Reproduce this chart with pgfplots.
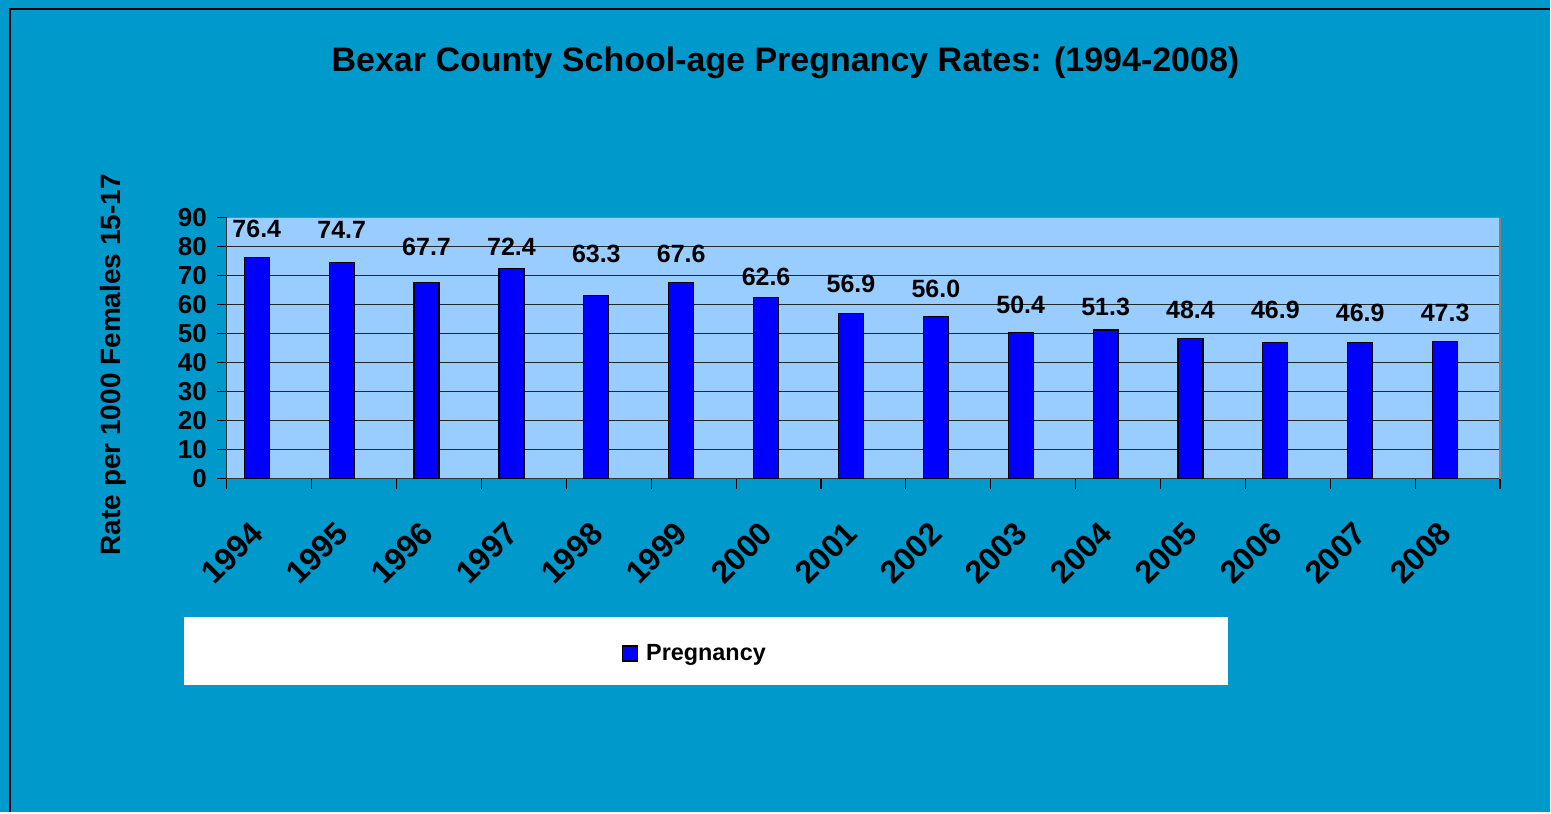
\documentclass[border=0pt]{standalone}
\usepackage{pgfplots}
\usepackage{pgfplotstable}
\pgfplotsset{compat=1.18}
\usepackage{fontspec}
\setmainfont{Liberation Sans}
\definecolor{bgc}{HTML}{0099CC}
\definecolor{plotbg}{HTML}{99CCFF}
\definecolor{barc}{HTML}{0000FF}
% x: category, y: rate, ly: height at which its label stands
\pgfplotstableread{
x y ly
0 76.4 86.2
1 74.7 85.9
2 67.7 80.0
3 72.4 80.0
4 63.3 77.6
5 67.6 77.6
6 62.6 69.7
7 56.9 67.2
8 56.0 65.5
9 50.4 60.0
10 51.3 59.3
11 48.4 58.3
12 46.9 58.3
13 46.9 57.2
14 47.3 57.2
}\data
\begin{document}
\begin{tikzpicture}
\fill[bgc] (0,0) rectangle (775.5pt,406.5pt);
\draw[black,line width=1pt] (5pt,0) -- (5pt,402pt) -- (775.5pt,402pt);
\fill[white] (92pt,64pt) rectangle (614.5pt,98pt);
\node[font=\fontsize{17}{20}\selectfont\bfseries] at (393pt,375pt) {Bexar County School-age Pregnancy Rates: (1994-2008)};
\node[rotate=90,font=\fontsize{14}{16}\selectfont\bfseries] at (56.5pt,224pt) {Rate per 1000 Females 15-17};
\begin{axis}[
  at={(113.5pt,167pt)}, anchor=south west, scale only axis,
  width=637pt, height=130.5pt,
  xmin=-0.5, xmax=14.5, ymin=0, ymax=90,
  clip=false,
  ybar, bar width=12.5pt, bar shift=-6.25pt,
  axis background/.style={fill=plotbg},
  axis x line*=bottom, axis y line*=left,
  axis line style={-,draw=black!80,line width=0.6pt},
  xtick={-0.5,0.5,...,14.5}, x tick label as interval,
  xticklabels={1994,1995,1996,1997,1998,1999,2000,2001,2002,2003,2004,2005,2006,2007,2008},
  ytick={0,10,...,90},
  tick align=outside, xtick pos=lower, ytick pos=left,
  major tick length=5pt,
  tick style={black,line width=0.6pt},
  ymajorgrids, grid style={black!85,line width=0.5pt},
  /pgf/number format/assume math mode=true,
  yticklabel style={font=\fontsize{13}{15}\selectfont\bfseries, xshift=-1.5pt},
  xticklabel style={yshift=-17pt, xshift=-3.5pt, rotate=45, anchor=east, font=\fontsize{16}{18}\selectfont\bfseries},
  legend style={at={(0.3684,-0.6705)}, anchor=center, draw=none, fill=none,
    column sep=2pt, font=\fontsize{11.7}{14}\selectfont\bfseries},
  legend image code/.code={\draw[#1] (0pt,-3.75pt) rectangle (7.5pt,3.75pt);},
]
\addplot[fill=barc, draw=black, line width=0.6pt,
  visualization depends on={\thisrow{ly}-\thisrow{y} \as \dly},
  nodes near coords={\pgfmathprintnumber[fixed,fixed zerofill,precision=1]{\pgfplotspointmeta}},
  every node near coord/.append style={font=\fontsize{12.5}{14}\selectfont\bfseries, text=black, anchor=center, yshift=\dly*1.45pt}]
  table[x=x,y=y] {\data};
\legend{Pregnancy}
\draw[black!50,line width=0.6pt] (rel axis cs:0,1) -- (rel axis cs:1,1) -- (rel axis cs:1,0);
\end{axis}
\end{tikzpicture}
\end{document}
